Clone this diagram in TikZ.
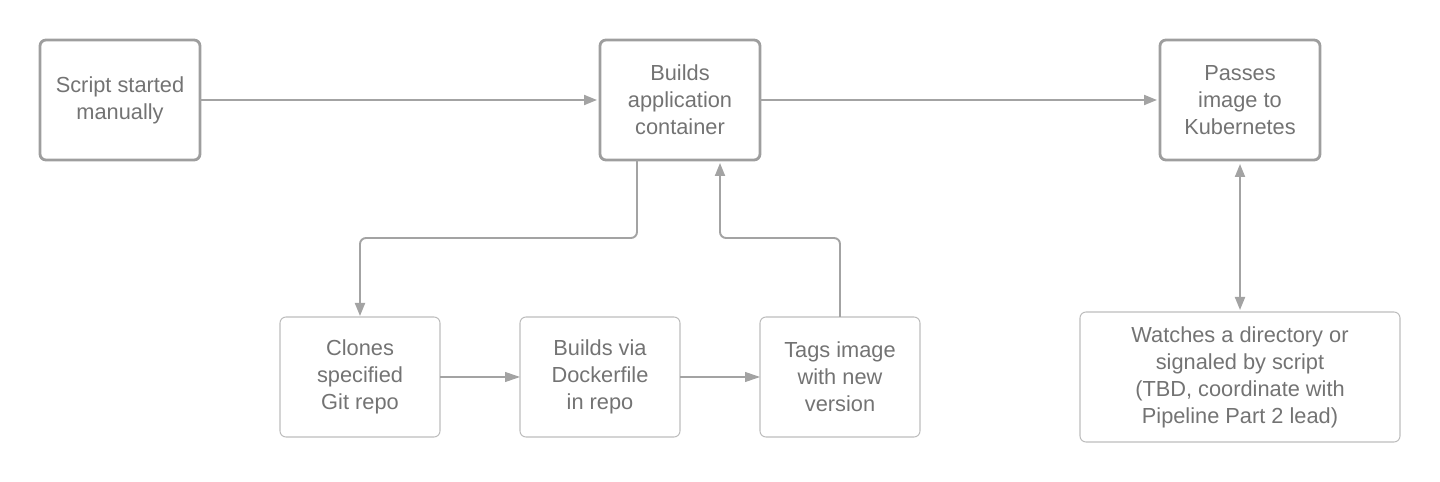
\documentclass[tikz,border=0pt]{standalone}
\usepackage{fontspec}
\setmainfont{Liberation Sans}
\usepackage{xcolor}
\usetikzlibrary{arrows.meta,positioning,calc}
\definecolor{txtgrey}{HTML}{737373}
\definecolor{edgegrey}{HTML}{9E9E9E}
\definecolor{lightedge}{HTML}{BDBDBD}
\definecolor{arrowgrey}{HTML}{A3A3A3}
\tikzset{
  mainbox/.style={
    rectangle, rounded corners=0.12cm, draw=edgegrey, line width=1.6pt,
    minimum width=3.2cm, minimum height=2.4cm, outer sep=0pt,
    text=txtgrey, font=\fontsize{12.4pt}{15.4pt}\selectfont, align=center,
    inner sep=2pt
  },
  subbox/.style={
    rectangle, rounded corners=0.12cm, draw=lightedge, line width=0.6pt,
    minimum width=3.2cm, minimum height=2.4cm, outer sep=0pt,
    text=txtgrey, font=\fontsize{12.4pt}{15.4pt}\selectfont, align=center,
    inner sep=2pt
  },
  flowarrow/.style={
    -{Triangle[length=0.26cm, width=0.2cm]}, line width=1.1pt, color=arrowgrey,
    rounded corners=0.12cm
  },
  thinarrow/.style={
    -{Triangle[length=0.3cm, width=0.2cm]}, line width=0.6pt, color=arrowgrey
  },
}
\begin{document}
\begin{tikzpicture}
  \useasboundingbox (0,0) rectangle (28.8,9.64);
  % Top row
  \node[mainbox] (script) at (2.4,7.64) {Script started\\manually};
  \node[mainbox, right=8cm of script] (build) {Builds\\application\\container};
  \node[mainbox, right=8cm of build] (pass) {Passes\\image to\\Kubernetes};
  \draw[flowarrow] (script) -- ([xshift=-0.06cm]build.west);
  \draw[flowarrow] (build) -- ([xshift=-0.06cm]pass.west);
  % Bottom row
  \node[subbox, below=3.14cm of build, xshift=-1.6cm] (docker) {Builds via\\Dockerfile\\in repo};
  \node[subbox, left=1.6cm of docker] (clone) {Clones\\specified\\Git repo};
  \node[subbox, right=1.6cm of docker] (tag) {Tags image\\with new\\version};
  \draw[thinarrow] (clone) -- (docker);
  \draw[thinarrow] (docker) -- (tag);
  \draw[flowarrow] ([xshift=-0.86cm]build.south) -- ++(0,-1.56) -| ([yshift=0.02cm]clone.north);
  \draw[flowarrow] (tag.north) -- ++(0,1.58) -| ([xshift=0.8cm, yshift=-0.06cm]build.south);
  % Kubernetes side
  \node[subbox, below=3.04cm of pass, minimum width=6.4cm, minimum height=2.6cm] (watch)
    {Watches a directory or\\signaled by script\\(TBD, coordinate with\\Pipeline Part 2 lead)};
  \draw[flowarrow, {Triangle[length=0.26cm, width=0.2cm]}-{Triangle[length=0.26cm, width=0.2cm]}]
    ([yshift=-0.08cm]pass.south) -- ([yshift=0.04cm]watch.north);
\end{tikzpicture}
\end{document}
